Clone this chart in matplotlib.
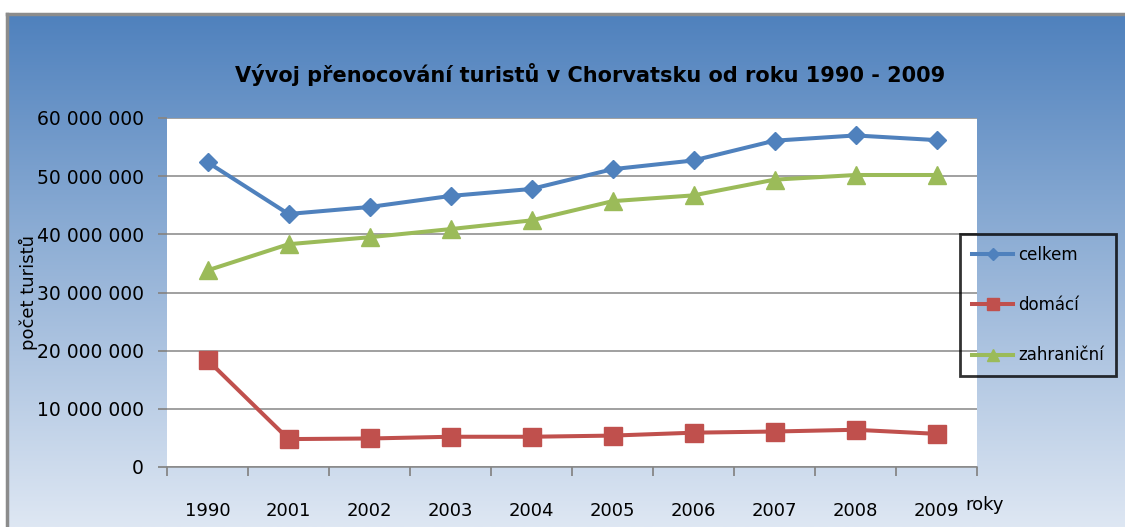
import numpy as np
import matplotlib
matplotlib.use("Agg")
import matplotlib.pyplot as plt
from matplotlib.ticker import FixedLocator, FuncFormatter

# Données (nombre de nuitées)
roky = ["1990", "2001", "2002", "2003", "2004", "2005", "2006", "2007", "2008", "2009"]
celkem = [52.4e6, 43.5e6, 44.7e6, 46.6e6, 47.8e6, 51.2e6, 52.7e6, 56.1e6, 57.0e6, 56.2e6]
domaci = [18.4e6, 4.8e6, 4.9e6, 5.2e6, 5.2e6, 5.4e6, 5.9e6, 6.1e6, 6.4e6, 5.7e6]
zahranicni = [33.8e6, 38.3e6, 39.5e6, 40.9e6, 42.4e6, 45.7e6, 46.7e6, 49.4e6, 50.2e6, 50.2e6]
y_ticks = [0, 10e6, 20e6, 30e6, 40e6, 50e6, 60e6]

W, H = 1125, 527
fig = plt.figure(figsize=(W / 100, H / 100), dpi=100)
fig.patch.set_facecolor("white")

# Fond en dégradé bleu (style Excel)
bg = fig.add_axes([7 / W, 0, 1 - 7 / W, (H - 14) / H], zorder=0)
top = np.array([79, 129, 189]) / 255
bottom = np.array([222, 231, 243]) / 255
t = np.linspace(0, 1, 256)[:, None]
grad = top * (1 - t) + bottom * t
bg.imshow(grad[:, None, :], aspect="auto", extent=[0, 1, 0, 1])
bg.set_xticks([])
bg.set_yticks([])
for side in ["right", "bottom"]:
    bg.spines[side].set_visible(False)
for side in ["left", "top"]:
    bg.spines[side].set_color("#8c8c8c")
    bg.spines[side].set_linewidth(2.5)

# Zone de tracé
ax = fig.add_axes([167 / W, (H - 467) / H, 810 / W, 349 / H], zorder=1)
ax.set_facecolor("white")
x = np.arange(len(roky))

ax.plot(x, celkem, color="#4F81BD", lw=2.9, marker="D", ms=9, label="celkem", zorder=3)
ax.plot(x, domaci, color="#C0504D", lw=2.9, marker="s", ms=13, label="domácí", zorder=3)
ax.plot(x, zahranicni, color="#9BBB59", lw=2.9, marker="^", ms=12.5, label="zahraniční", zorder=3)

ax.set_xlim(-0.5, len(roky) - 0.5)
ax.set_ylim(0, 60e6)

# Graduations : traits aux limites des catégories, étiquettes au centre
ax.xaxis.set_major_locator(FixedLocator(np.arange(-0.5, len(roky), 1)))
ax.xaxis.set_major_formatter(FuncFormatter(lambda v, p: ""))
ax.xaxis.set_minor_locator(FixedLocator(x))
ax.set_xticks(x, roky, minor=True)
ax.tick_params(axis="x", which="major", direction="out", length=6.5, width=1.3, color="#868686")
ax.tick_params(axis="x", which="minor", length=0, pad=25, labelsize=13)

ax.set_yticks(y_ticks)
ax.yaxis.set_major_formatter(FuncFormatter(lambda v, p: f"{v:,.0f}".replace(",", " ")))
ax.tick_params(axis="y", direction="out", length=6.5, width=1.3, color="#868686", pad=10, labelsize=13.5)

ax.grid(axis="y", color="#868686", lw=1.1)
ax.set_axisbelow(True)
for side in ["left", "right", "top"]:
    ax.spines[side].set_visible(False)
ax.spines["bottom"].set_color("#868686")
ax.spines["bottom"].set_linewidth(1.1)

# Textes
fig.text(590 / W, 1 - 75 / H, "Vývoj přenocování turistů v Chorvatsku od roku 1990 - 2009",
         ha="center", va="center", fontsize=15, fontweight="bold", zorder=5)
fig.text(28 / W, 1 - 292 / H, "počet turistů", rotation=90, ha="center", va="center",
         fontsize=13, zorder=5)
fig.text(965 / W, 1 - 505 / H, "roky", ha="left", va="center", fontsize=13, zorder=5)

# Légende (cadre noir, sans fond)
leg = ax.legend(loc="center left", bbox_to_anchor=(960 / W, 1 - 305 / H),
                bbox_transform=fig.transFigure, borderaxespad=0, fontsize=12,
                frameon=True, fancybox=False, labelspacing=1.95, handlelength=2.5,
                handletextpad=0.3, markerscale=0.7, borderpad=0.7)
leg.get_frame().set_edgecolor("black")
leg.get_frame().set_linewidth(2)
leg.get_frame().set_facecolor("none")
leg.set_zorder(6)

fig.savefig("out.png", dpi=100)
